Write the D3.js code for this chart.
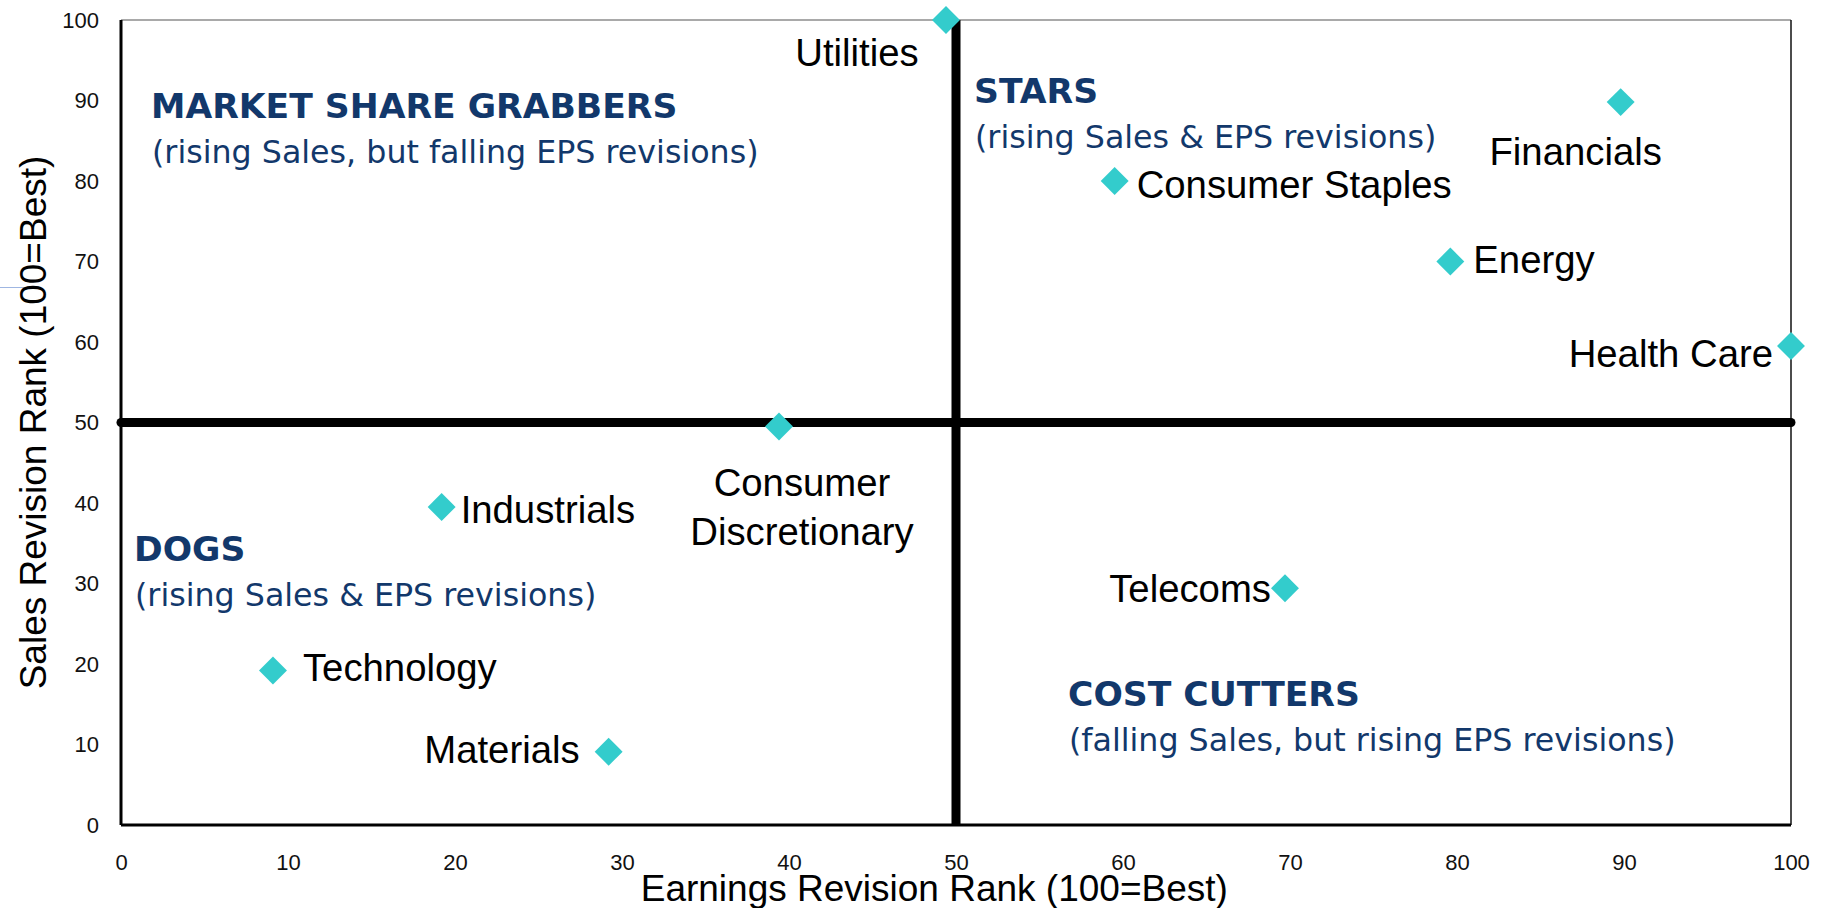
<!DOCTYPE html>
<html>
<head>
<meta charset="utf-8">
<script src="https://cdn.jsdelivr.net/npm/d3@7"></script>
<style>
  html, body { margin: 0; padding: 0; background: #fff; }
  svg { display: block; }
  .tick text { font-family: "Liberation Sans", Arial, sans-serif; font-size: 22px; fill: #111; }
</style>
</head>
<body>
<div class="quadrant-chart"></div>
<script>
// sectors and their ranks
const sectors = ["Utilities", "Financials", "Consumer Staples", "Energy", "Health Care",
  "Consumer Discretionary", "Industrials", "Technology", "Materials", "Telecoms"];
const earningsRank = [49.4, 89.8, 59.5, 79.6, 100, 39.4, 19.2, 9.1, 29.2, 69.7];
const salesRank = [100, 89.8, 80, 70, 59.5, 49.5, 39.5, 19.2, 9.1, 29.4];

const tickValues = [0, 10, 20, 30, 40, 50, 60, 70, 80, 90, 100];

const quadrantTitles = ["MARKET SHARE GRABBERS", "STARS", "DOGS", "COST CUTTERS"];
const quadrantNotes = [
  "(rising Sales, but falling EPS revisions)",
  "(rising Sales & EPS revisions)",
  "(rising Sales & EPS revisions)",
  "(falling Sales, but rising EPS revisions)"
];

const xTitle = "Earnings Revision Rank (100=Best)";
const yTitle = "Sales Revision Rank (100=Best)";

// label placement relative to the marker (pixels)
const labelPlace = {
  "Utilities": {anchor: "middle", dx: -89, dy: 46},
  "Financials": {anchor: "middle", dx: -45, dy: 63},
  "Consumer Staples": {anchor: "start", dx: 22, dy: 17},
  "Energy": {anchor: "start", dx: 23, dy: 11},
  "Health Care": {anchor: "end", dx: -18, dy: 21},
  "Consumer Discretionary": {anchor: "middle", dx: 23, dy: 69, lines: ["Consumer", "Discretionary"]},
  "Industrials": {anchor: "start", dx: 19, dy: 16},
  "Technology": {anchor: "start", dx: 30, dy: 11},
  "Materials": {anchor: "end", dx: -29, dy: 11},
  "Telecoms": {anchor: "end", dx: -14, dy: 14}
};

// quadrant text anchors in pixels
const quadrantPlace = [
  {x: 151, y: 118},
  {x: 974, y: 103},
  {x: 134, y: 561},
  {x: 1068, y: 706}
];

const width = 1827;
const height = 908;
const margin = {top: 20, right: 36, bottom: 83, left: 121};
const navy = "#12386b";

const svg = d3.select(".quadrant-chart")
  .append("svg")
  .attr("width", width)
  .attr("height", height);

const x = d3.scaleLinear().domain([0, 100]).range([margin.left, width - margin.right]);
const y = d3.scaleLinear().domain([0, 100]).range([height - margin.bottom, margin.top]);

// axes (labels only)
svg.append("g")
  .attr("transform", `translate(${margin.left},0)`)
  .call(d3.axisLeft(y).tickValues(tickValues).tickSize(0).tickPadding(22))
  .call(g => g.select(".domain").remove());

svg.append("g")
  .attr("transform", `translate(0,${height - margin.bottom})`)
  .call(d3.axisBottom(x).tickValues(tickValues).tickSize(0).tickPadding(29))
  .call(g => g.select(".domain").remove());

// frame
svg.append("line")
  .attr("x1", x(0)).attr("x2", x(100)).attr("y1", y(100)).attr("y2", y(100))
  .attr("stroke", "#555").attr("stroke-width", 1.2);
svg.append("line")
  .attr("x1", x(100)).attr("x2", x(100)).attr("y1", y(100)).attr("y2", y(0))
  .attr("stroke", "#111").attr("stroke-width", 1.5);
svg.append("line")
  .attr("x1", x(0)).attr("x2", x(0)).attr("y1", y(100)).attr("y2", y(0))
  .attr("stroke", "#000").attr("stroke-width", 3);
svg.append("line")
  .attr("x1", x(0)).attr("x2", x(100)).attr("y1", y(0)).attr("y2", y(0))
  .attr("stroke", "#000").attr("stroke-width", 3);

// stray mark left of the y title
svg.append("line")
  .attr("x1", 0).attr("x2", 33).attr("y1", 287.5).attr("y2", 287.5)
  .attr("stroke", "#9fb6e2").attr("stroke-width", 1);

// quadrant dividers
svg.append("line")
  .attr("x1", x(50)).attr("x2", x(50)).attr("y1", y(100)).attr("y2", y(0))
  .attr("stroke", "#000").attr("stroke-width", 9);
svg.append("line")
  .attr("x1", x(0)).attr("x2", x(100)).attr("y1", y(50)).attr("y2", y(50))
  .attr("stroke", "#000").attr("stroke-width", 9)
  .attr("stroke-linecap", "round");

// quadrant captions
quadrantTitles.forEach((t, i) => {
  const p = quadrantPlace[i];
  svg.append("text")
    .attr("x", p.x).attr("y", p.y)
    .attr("font-family", "DejaVu Sans, Verdana, sans-serif")
    .attr("font-weight", "bold")
    .attr("font-size", 34.6)
    .attr("fill", navy)
    .text(t);
  svg.append("text")
    .attr("x", p.x + 1).attr("y", p.y + 45)
    .attr("font-family", "DejaVu Sans, Verdana, sans-serif")
    .attr("font-size", 31.7)
    .attr("fill", navy)
    .text(quadrantNotes[i]);
});

// points
const data = sectors.map((name, i) => ({name, ex: earningsRank[i], sa: salesRank[i]}));
const diamond = d3.symbol().type(d3.symbolSquare).size(390);

const labels = svg.append("g")
  .attr("font-family", "Liberation Sans, Arial, sans-serif")
  .attr("font-size", 38.3)
  .attr("fill", "#000");

data.forEach(d => {
  const p = labelPlace[d.name];
  const t = labels.append("text")
    .attr("x", x(d.ex) + p.dx)
    .attr("y", y(d.sa) + p.dy)
    .attr("text-anchor", p.anchor);
  if (p.lines) {
    p.lines.forEach((ln, k) => {
      t.append("tspan")
        .attr("x", x(d.ex) + p.dx)
        .attr("dy", k === 0 ? 0 : 49)
        .text(ln);
    });
  } else {
    t.text(d.name);
  }
});

svg.append("g")
  .selectAll("path")
  .data(data)
  .join("path")
  .attr("transform", d => `translate(${x(d.ex)},${y(d.sa)}) rotate(45)`)
  .attr("d", diamond)
  .attr("fill", "#33cccc");

// axis titles
svg.append("text")
  .attr("x", x(48.7))
  .attr("y", 901)
  .attr("text-anchor", "middle")
  .attr("font-family", "Liberation Sans, Arial, sans-serif")
  .attr("font-size", 37)
  .text(xTitle);

svg.append("text")
  .attr("transform", `translate(46,${(y(0) + y(100)) / 2}) rotate(-90)`)
  .attr("text-anchor", "middle")
  .attr("font-family", "Liberation Sans, Arial, sans-serif")
  .attr("font-size", 37)
  .text(yTitle);
</script>
</body>
</html>
